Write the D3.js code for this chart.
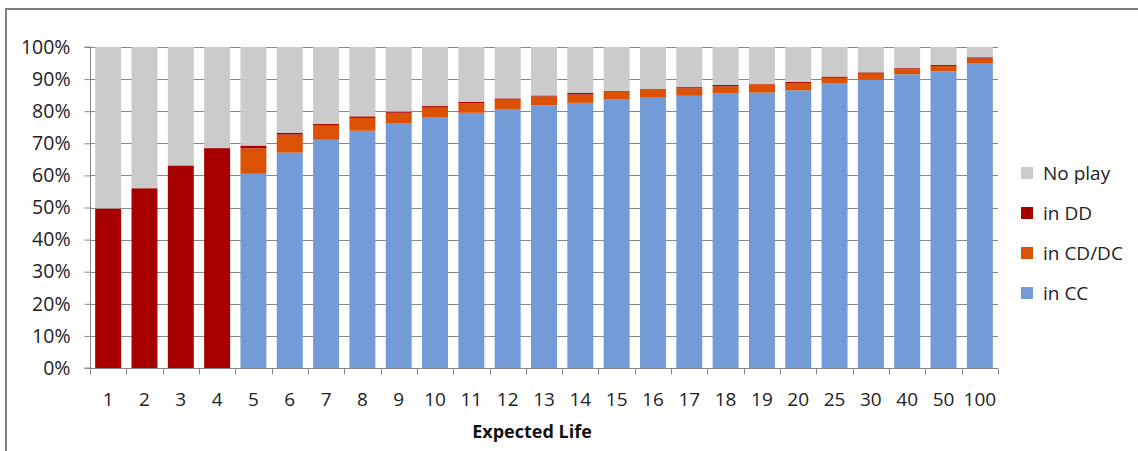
<!DOCTYPE html>
<html><head><meta charset="utf-8">
<script src="https://cdn.jsdelivr.net/npm/d3@7"></script>
<style>body{margin:0;background:#fff}svg{display:block}</style>
</head><body>
<svg id="c" width="1138" height="451"></svg>
<script>
const categories = ["1","2","3","4","5","6","7","8","9","10","11","12","13","14","15","16","17","18","19","20","25","30","40","50","100"];
const inCC   = [0,0,0,0,60.5,67.1,71.1,73.9,76.3,78.0,79.5,80.7,81.9,82.6,83.6,84.2,84.8,85.5,85.8,86.5,88.6,89.8,91.5,92.4,94.8];
const inCDDC = [0,0,0,0,7.9,5.6,4.4,4.0,3.2,3.1,3.0,2.9,2.7,2.6,2.5,2.5,2.3,2.2,2.6,2.3,1.8,1.9,1.5,1.7,1.6];
const inDD   = [49.7,56.0,63.1,68.5,0.9,0.6,0.5,0.5,0.4,0.5,0.4,0.4,0.3,0.5,0.2,0.2,0.4,0.5,0.1,0.3,0.4,0.4,0.4,0.3,0.4];
const yTicks = [0,10,20,30,40,50,60,70,80,90,100];
const seriesNames = ["in CC","in CD/DC","in DD","No play"];
const legendOrder = ["No play","in DD","in CD/DC","in CC"];
const colors = {"in CC":"#729bd7","in CD/DC":"#dc5204","in DD":"#a80000","No play":"#cbcbcb"};

const rows = categories.map((c,i)=>({cat:c,"in CC":inCC[i],"in CD/DC":inCDDC[i],"in DD":inDD[i],"No play":100-inCC[i]-inCDDC[i]-inDD[i]}));
const stacked = d3.stack().keys(seriesNames)(rows);

const svg = d3.select("#c");
const font = "'Open Sans', 'Noto Sans', sans-serif";
const L=90, R=998, T=47, B=368;
const x = d3.scaleBand().domain(categories).range([L,R]).paddingInner(0.285).paddingOuter(0.1425);
const y = d3.scaleLinear().domain([0,100]).range([B,T]);

// frame
svg.append("path").attr("d",`M6,451 V9 H1138`).attr("fill","none").attr("stroke","#7f7f7f").attr("stroke-width",2);

// gridlines
svg.append("g").selectAll("line").data(yTicks.filter(d=>d>0)).join("line")
  .attr("x1",L).attr("x2",R).attr("y1",d=>Math.round(y(d))+0.5).attr("y2",d=>Math.round(y(d))+0.5)
  .attr("stroke","#878787").attr("stroke-width",1);

// bars
svg.append("g").selectAll("g").data(stacked).join("g").attr("fill",d=>colors[d.key])
  .selectAll("rect").data(d=>d).join("rect")
  .attr("x",d=>x(d.data.cat)).attr("width",x.bandwidth())
  .attr("y",d=>y(d[1])).attr("height",d=>Math.max(0,y(d[0])-y(d[1])));

// y axis
const ya = svg.append("g").attr("transform",`translate(${L+0.5},0)`)
  .call(d3.axisLeft(y).tickValues(yTicks).tickFormat(d=>d+"%").tickSize(6).tickPadding(14));
ya.select(".domain").attr("stroke","#878787").attr("d",`M-6,${B}H0V${T}H-6`);
ya.selectAll(".tick line").attr("stroke","#878787");
ya.selectAll("text").attr("font-family",font).attr("font-size",19.5).attr("fill","#222");

// x axis
const xa = svg.append("g").attr("transform",`translate(0,${B+0.5})`);
xa.append("line").attr("x1",L).attr("x2",R).attr("stroke","#878787");
const bounds = categories.map(c=>x(c)-x.step()*x.paddingInner()/2).concat([R]);
xa.selectAll("line.t").data(bounds).join("line").attr("class","t")
  .attr("x1",d=>Math.round(d)+0.5).attr("x2",d=>Math.round(d)+0.5).attr("y1",0).attr("y2",6).attr("stroke","#878787");
xa.selectAll("text").data(categories).join("text")
  .attr("x",d=>x(d)+x.bandwidth()/2).attr("y",37).attr("text-anchor","middle")
  .attr("font-family",font).attr("font-size",19).attr("fill","#222").text(d=>d);

svg.append("text").attr("x",532).attr("y",438).attr("text-anchor","middle")
  .attr("font-family",font).attr("font-size",18).attr("font-weight","bold").attr("fill","#111").text("Expected Life");

// legend
const lg = svg.append("g").selectAll("g").data(legendOrder).join("g")
  .attr("transform",(d,i)=>`translate(1021,${173+i*40})`);
lg.append("rect").attr("x",0).attr("y",-6).attr("width",12).attr("height",12).attr("fill",d=>colors[d]);
lg.append("text").attr("x",22).attr("y",0).attr("dy","0.35em").attr("font-family",font)
  .attr("font-size",19).attr("fill","#222").text(d=>d);
</script>
</body></html>
